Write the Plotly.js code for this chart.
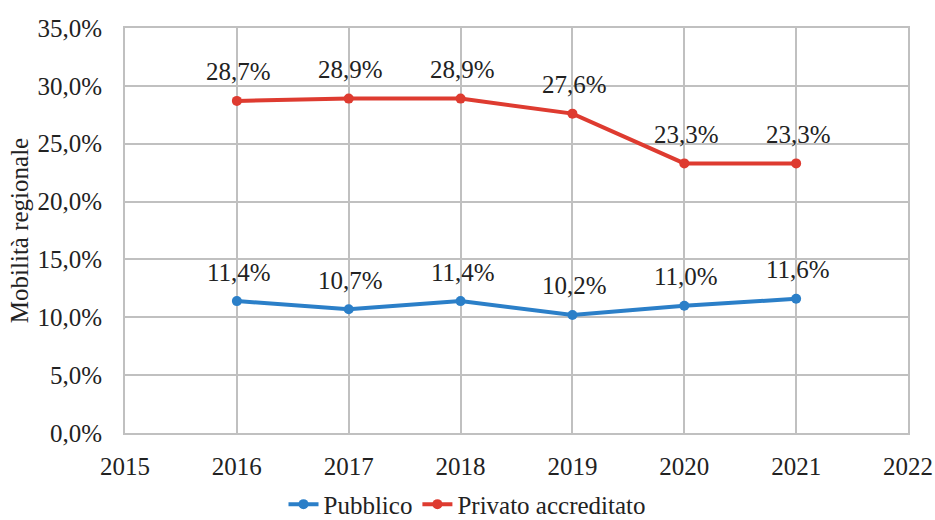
<!DOCTYPE html>
<html>
<head>
<meta charset="utf-8">
<script src="https://cdn.plot.ly/plotly-3.0.1.min.js"></script>
<style>html,body{margin:0;padding:0;background:#fff}#chart{width:935px;height:520px}</style>
</head>
<body>
<div id="chart"></div>
<script>
const years = [2016, 2017, 2018, 2019, 2020, 2021];
const pubblico = [11.4, 10.7, 11.4, 10.2, 11.0, 11.6];
const privato = [28.7, 28.9, 28.9, 27.6, 23.3, 23.3];
const seriesNames = ['Pubblico', 'Privato accreditato'];
const yTicks = [0, 5, 10, 15, 20, 25, 30, 35];
const xTicks = [2015, 2016, 2017, 2018, 2019, 2020, 2021, 2022];

const blue = '#2b7fc8';
const red = '#de3b30';
const font = 'Liberation Serif';

function fmt(v) { return v.toFixed(1).replace('.', ',') + '%'; }

const traces = [
  {x: years, y: pubblico, name: seriesNames[0], mode: 'lines+markers',
   line: {color: blue, width: 4}, marker: {color: blue, size: 10}},
  {x: years, y: privato, name: seriesNames[1], mode: 'lines+markers',
   line: {color: red, width: 4}, marker: {color: red, size: 10}}
];

const annotations = [];
[pubblico, privato].forEach(arr => {
  arr.forEach((v, i) => {
    annotations.push({x: years[i], y: v, xref: 'x', yref: 'y', text: fmt(v),
      showarrow: false, yshift: 29, xshift: 2, font: {family: font, size: 25, color: '#222'}});
  });
});

const layout = {
  width: 935, height: 520,
  margin: {l: 125, r: 27, t: 28, b: 87},
  paper_bgcolor: '#fff', plot_bgcolor: '#fff',
  separators: ',.',
  font: {family: font, size: 25, color: '#222'},
  showlegend: true,
  legend: {orientation: 'h', xref: 'container', yref: 'container', x: 0.5, xanchor: 'center',
           y: 0.03, yanchor: 'middle', font: {family: font, size: 25, color: '#222'}},
  xaxis: {range: [2015, 2022], tickvals: xTicks, ticktext: xTicks.map(String),
          showgrid: true, gridcolor: '#c0c0c0', gridwidth: 2, zeroline: false,
          showline: true, linecolor: '#c0c0c0', linewidth: 2, mirror: true,
          ticks: '', ticklabelstandoff: 10, tickfont: {family: font, size: 25, color: '#222'}},
  yaxis: {range: [0, 35], tickvals: yTicks, ticktext: yTicks.map(fmt),
          showgrid: true, gridcolor: '#c0c0c0', gridwidth: 2, zeroline: false,
          showline: true, linecolor: '#c0c0c0', linewidth: 2, mirror: true,
          ticks: '', ticklabelstandoff: 16, tickfont: {family: font, size: 25, color: '#222'},
          title: {text: 'Mobilità regionale', font: {family: font, size: 25, color: '#222'}, standoff: 2}},
  annotations: annotations
};

Plotly.newPlot('chart', traces, layout, {displayModeBar: false, staticPlot: true});
</script>
</body>
</html>
